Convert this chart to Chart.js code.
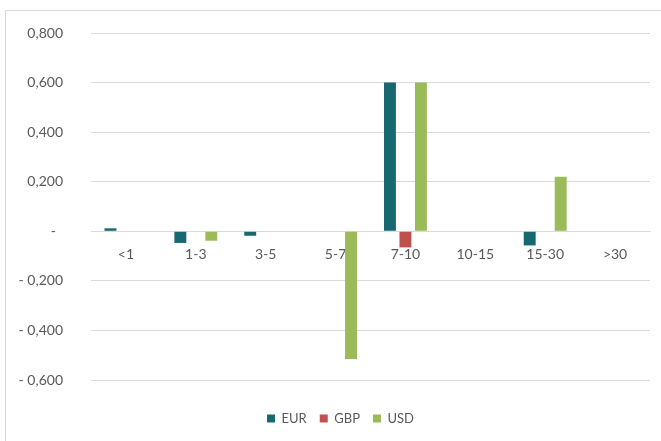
<!DOCTYPE html>
<html>
<head>
<meta charset="utf-8">
<script src="https://cdn.jsdelivr.net/npm/chart.js@4"></script>
<style>
html,body{margin:0;padding:0;background:#fff;overflow:hidden;}
#wrap{position:absolute;left:0;top:0;width:661px;height:441px;}
</style>
</head>
<body>
<div id="wrap"><canvas id="c" width="661" height="441"></canvas></div>
<script>
const categories = ["<1", "1-3", "3-5", "5-7", "7-10", "10-15", "15-30", ">30"];
const eurValues = [0.012, -0.047, -0.018, 0, 0.600, 0, -0.057, 0];
const gbpValues = [0, 0, 0, 0, -0.065, 0, 0, 0];
const usdValues = [0, -0.038, 0, -0.515, 0.600, 0, 0.220, 0];
const yTicks = [-0.6, -0.4, -0.2, 0, 0.2, 0.4, 0.6, 0.8];

const TEXT = '#595959';
const GRID = '#d9d9d9';
const FONT = 'Lato, "Open Sans", sans-serif';

const borderPlugin = {
  id: 'outerBorder',
  afterLayout(chart) {
    if (chart.legend) { chart.legend.left += 31; }
  },
  beforeDraw(chart) {
    const ctx = chart.ctx;
    ctx.save();
    ctx.strokeStyle = GRID;
    ctx.lineWidth = 1;
    ctx.beginPath();
    ctx.moveTo(5.5, 441);
    ctx.lineTo(5.5, 10.5);
    ctx.lineTo(661, 10.5);
    ctx.stroke();
    ctx.restore();
  }
};

function fmt(v) {
  const r = Math.round(v * 1000) / 1000;
  if (r === 0) return '-\u00A0\u00A0';
  const s = Math.abs(r).toFixed(3).replace('.', ',');
  return r < 0 ? '- ' + s : s;
}

function zeroPad(scale) {
  scale.paddingTop = 0;
  scale.paddingBottom = 0;
}

new Chart(document.getElementById('c'), {
  type: 'bar',
  data: {
    labels: categories,
    datasets: [
      { label: 'EUR', data: eurValues, backgroundColor: '#17696f' },
      { label: 'GBP', data: gbpValues, backgroundColor: '#c0504d' },
      { label: 'USD', data: usdValues, backgroundColor: '#9bbb59' }
    ]
  },
  options: {
    responsive: false,
    devicePixelRatio: 1,
    animation: false,
    layout: { padding: { left: 0, right: 11, top: 33, bottom: 6 } },
    datasets: { bar: { categoryPercentage: 0.665, barPercentage: 0.77 } },
    plugins: {
      legend: {
        position: 'bottom',
        title: { display: true, text: ' ', font: { size: 12 }, padding: { top: 4.6, bottom: 0 } },
        labels: {
          boxWidth: 8, boxHeight: 8, padding: 13,
          color: TEXT, font: { family: FONT, size: 13 }
        }
      },
      tooltip: { enabled: false }
    },
    scales: {
      x: {
        position: { y: 0 },
        afterFit: zeroPad,
        grid: { display: false, drawTicks: false },
        border: { display: true, color: GRID, width: 1 },
        ticks: { color: TEXT, font: { family: FONT, size: 14 }, padding: 15, maxRotation: 0 }
      },
      y: {
        min: -0.6, max: 0.8,
        afterFit(scale) { scale.width = 91; zeroPad(scale); },
        afterBuildTicks(scale) { scale.ticks = yTicks.map(v => ({ value: v })); },
        grid: { color: GRID, lineWidth: 1, drawTicks: false },
        border: { display: false },
        ticks: { color: TEXT, font: { family: FONT, size: 14 }, padding: 28, callback: (v) => fmt(v) }
      }
    }
  },
  plugins: [borderPlugin]
});
</script>
</body>
</html>
